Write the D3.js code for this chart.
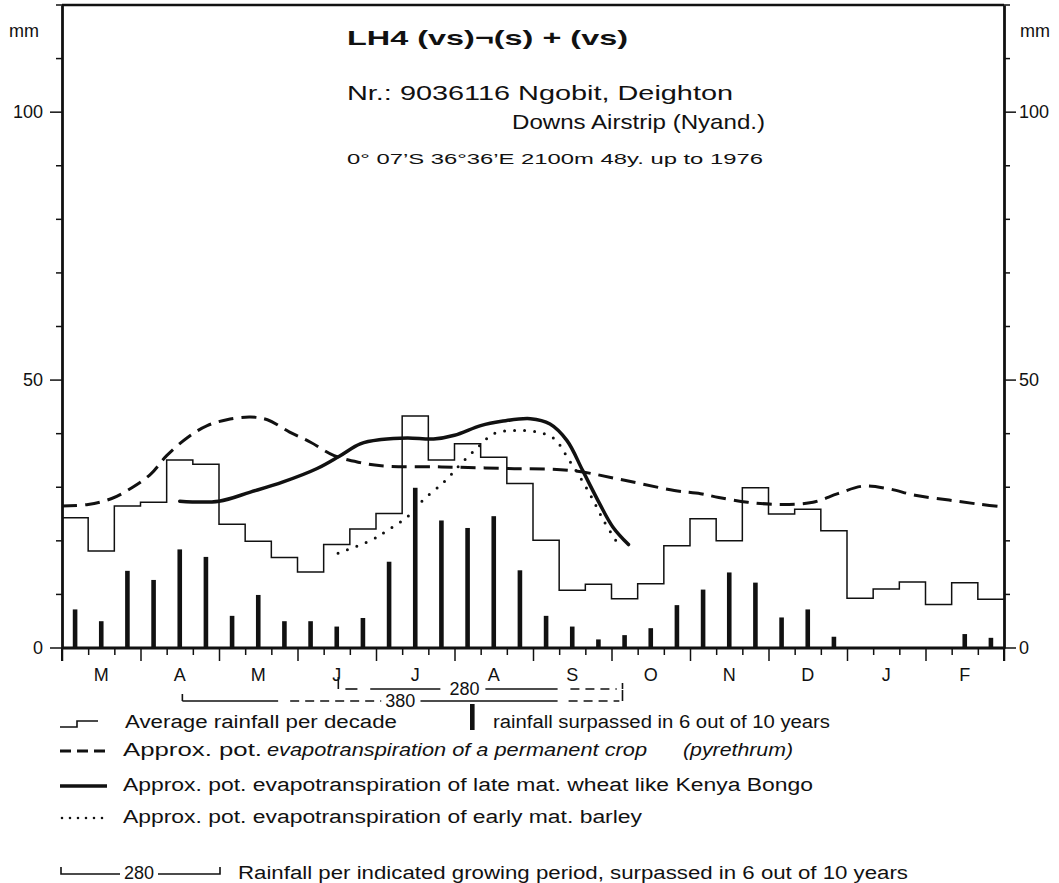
<!DOCTYPE html>
<html><head><meta charset="utf-8">
<script src="https://cdn.jsdelivr.net/npm/d3@7"></script>
<style>
body{margin:0;background:#fff}
svg{display:block}
text{font-family:"Liberation Sans",Arial,Helvetica,sans-serif;fill:#111}
</style>
</head><body>
<svg id="chart" width="1059" height="883"></svg>
<script>
// ---- DATA ----
const monthLabels = ["M","A","M","J","J","A","S","O","N","D","J","F"];
const yTickLabels = [0, 50, 100];
// average rainfall per decade (mm), 36 decades Mar..Feb
const avgRain = [24.3,18.1,26.5,27.2,35.1,34.3,23.1,19.9,16.9,14.2,19.3,22.2,
                 25.1,43.3,35.1,38.1,35.6,30.7,20.1,10.8,11.9,9.2,12.0,19.1,
                 24.1,20.0,29.9,25.0,25.9,21.9,9.3,11.0,12.3,8.1,12.2,9.1];
// rainfall surpassed in 6 out of 10 years (mm)
const rain6of10 = [7.2,5.0,14.4,12.7,18.4,17.0,6.0,9.9,5.0,5.0,4.0,5.6,
                   16.1,29.9,23.8,22.4,24.6,14.5,6.0,4.0,1.6,2.4,3.7,8.0,
                   10.9,14.1,12.2,5.7,7.2,2.1,0,0,0,0,2.6,1.9];
// pot. evapotranspiration, permanent crop (pyrethrum): decade position / mm
const pyrethrumDecade = [0,1.0,1.9,2.7,3.4,4.0,4.8,5.55,6.3,7.2,7.85,8.7,9.5,10.4,11.4,12.2,14.5,17.0,19.5,21.5,23.4,24.4,25.1,26.2,27.5,28.7,29.65,30.6,31.6,32.6,33.9,35.1,36];
const pyrethrumET     = [26.5,26.8,27.9,30.0,32.5,35.9,39.3,41.5,42.6,43.1,42.6,40.3,38.4,35.9,34.6,34.0,33.8,33.5,33.1,31.3,29.4,28.8,28.1,27.2,26.8,27.2,28.8,30.2,29.7,28.5,27.6,26.8,26.3];
// late mat. wheat (Kenya Bongo)
const wheatDecade = [4.5,6.0,7.2,8.45,9.75,10.6,11.4,12.2,13.2,14.2,15.0,16.0,16.8,17.9,18.65,19.3,19.9,20.55,21.05,21.65];
const wheatET     = [27.4,27.4,29.1,31.0,33.5,35.8,38.1,38.9,39.2,39.0,39.7,41.5,42.3,42.8,41.8,38.7,33.1,26.9,22.6,19.3];
// early mat. barley
const barleyDecade = [10.55,11.8,12.45,13.2,13.8,14.6,15.25,15.9,16.5,17.3,18.15,18.8,19.35,20.1,20.7,21.35];
const barleyET     = [17.7,20.1,22.0,24.5,27.6,31.0,34.4,37.5,40.0,40.6,40.3,39.1,35.3,29.4,23.8,18.6];
// growing-period rainfall brackets (value, start/end decade, solid/dashed segments)
const period380 = {label:"380", start:4.6, end:21.42, labelAt:12.93,
  segs:[[4.6,8.26,"s"],[8.72,12.2,"d"],[13.7,18.94,"s"],[19.36,21.3,"d"]]};
const period280 = {label:"280", start:10.56, end:21.42, labelAt:15.38,
  segs:[[10.83,11.29,"s"],[11.78,14.46,"s"],[16.18,18.94,"s"],[19.43,21.2,"d"]]};

// ---- CHART ----
const svg = d3.select("#chart");
const x = d3.scaleLinear().domain([0,36]).range([62,1004]);
const y = d3.scaleLinear().domain([0,120]).range([648,5]);
const ink = "#111";

// frame: top line, left & right axes
svg.append("line").attr("x1",x(0)).attr("x2",x(36)).attr("y1",y(120)).attr("y2",y(120)).attr("stroke",ink).attr("stroke-width",2.5);
const gl = svg.append("g").attr("transform",`translate(${x(0)},0)`)
  .call(d3.axisLeft(y).tickValues(d3.range(0,121,10)).tickSize(0).tickFormat(""));
gl.select(".domain").attr("stroke",ink).attr("stroke-width",2.8);
const gr = svg.append("g").attr("transform",`translate(${x(36)},0)`)
  .call(d3.axisRight(y).tickValues(d3.range(0,121,10)).tickSize(0).tickFormat(""));
gr.select(".domain").attr("stroke",ink).attr("stroke-width",2.8);
svg.append("line").attr("x1",x(0)).attr("x2",x(0)).attr("y1",y(0)).attr("y2",y(0)+13).attr("stroke",ink).attr("stroke-width",2);
svg.append("line").attr("x1",x(36)).attr("x2",x(36)).attr("y1",y(0)).attr("y2",y(0)+13).attr("stroke",ink).attr("stroke-width",2);

// y ticks
d3.range(0,121,10).forEach(v=>{
  const major = yTickLabels.includes(v);
  const len = major ? 12 : 6;
  svg.append("line").attr("x1",x(0)-len).attr("x2",x(0)).attr("y1",y(v)).attr("y2",y(v)).attr("stroke",ink).attr("stroke-width",1.5);
  svg.append("line").attr("x1",x(36)).attr("x2",x(36)+len).attr("y1",y(v)).attr("y2",y(v)).attr("stroke",ink).attr("stroke-width",1.5);
});
yTickLabels.forEach(v=>{
  svg.append("text").attr("x",43).attr("y",y(v)+6).attr("text-anchor","end").attr("font-size",18).text(v);
  svg.append("text").attr("x",1019).attr("y",y(v)+6).attr("text-anchor","start").attr("font-size",18).text(v);
});
svg.append("text").attr("x",9).attr("y",37).attr("font-size",18).text("mm");
svg.append("text").attr("x",1020).attr("y",37).attr("font-size",18).text("mm");

// x axis baseline & ticks
svg.append("line").attr("x1",x(0)).attr("x2",x(36)).attr("y1",y(0)).attr("y2",y(0)).attr("stroke",ink).attr("stroke-width",2.8);
const gx = svg.append("g").attr("transform",`translate(0,${y(0)})`)
  .call(d3.axisBottom(x).tickValues(d3.range(0,37)).tickSize(7).tickFormat(""));
gx.select(".domain").remove();
gx.selectAll(".tick line").attr("stroke",ink).attr("stroke-width",1.5)
  .attr("y2",d=> d%3===0 ? 13 : 7);
monthLabels.forEach((m,i)=>{
  svg.append("text").attr("x",x(i*3+1.5)).attr("y",681).attr("text-anchor","middle").attr("font-size",18).text(m);
});

// bars: rainfall surpassed 6 out of 10 years
svg.selectAll("rect.bar").data(rain6of10).join("rect").attr("class","bar")
  .attr("x",(d,i)=>x(i+0.5)-2.3).attr("width",4.6)
  .attr("y",d=>y(d)).attr("height",d=>y(0)-y(d)).attr("fill",ink);

// step line: average rainfall per decade
const stepPts = avgRain.map((v,i)=>[i,v]); stepPts.push([36,avgRain[35]]);
svg.append("path").attr("d",d3.line().x(d=>x(d[0])).y(d=>y(d[1])).curve(d3.curveStepAfter)(stepPts))
  .attr("fill","none").attr("stroke",ink).attr("stroke-width",1.5);

const smooth = d3.line().x(d=>x(d[0])).y(d=>y(d[1])).curve(d3.curveCatmullRom.alpha(0.5));
// pyrethrum dashed
svg.append("path").attr("d",smooth(pyrethrumDecade.map((d,i)=>[d,pyrethrumET[i]])))
  .attr("fill","none").attr("stroke",ink).attr("stroke-width",3).attr("stroke-dasharray","15 8");
// wheat solid
svg.append("path").attr("d",smooth(wheatDecade.map((d,i)=>[d,wheatET[i]])))
  .attr("fill","none").attr("stroke",ink).attr("stroke-width",3.5).attr("stroke-linecap","round");
// barley dotted
svg.append("path").attr("d",smooth(barleyDecade.map((d,i)=>[d,barleyET[i]])))
  .attr("fill","none").attr("stroke",ink).attr("stroke-width",3).attr("stroke-linecap","round").attr("stroke-dasharray","0 10");

// growing-period brackets
function bracket(p, yl, leftHookTop, rightHookTop){
  p.segs.forEach(s=>{
    svg.append("line").attr("x1",x(s[0])).attr("x2",x(s[1])).attr("y1",yl).attr("y2",yl)
      .attr("stroke",ink).attr("stroke-width",1.6).attr("stroke-dasharray",s[2]==="d"?"9 6":null);
  });
  svg.append("line").attr("x1",x(p.start)).attr("x2",x(p.start)).attr("y1",leftHookTop).attr("y2",yl).attr("stroke",ink).attr("stroke-width",1.6);
  svg.append("line").attr("x1",x(p.end)).attr("x2",x(p.end)).attr("y1",rightHookTop).attr("y2",yl).attr("stroke",ink).attr("stroke-width",1.6);
  svg.append("text").attr("x",x(p.labelAt)).attr("y",yl+6).attr("text-anchor","middle").attr("font-size",18).text(p.label);
}
bracket(period380, 701, 694, 690);
bracket(period280, 689, 677, 683);

// titles
function txt(s, x0, yb, size, len, opts={}){
  const t = svg.append("text").attr("x",x0).attr("y",yb).attr("font-size",size).text(s);
  if(len){ t.attr("textLength",len).attr("lengthAdjust","spacingAndGlyphs"); }
  if(opts.bold) t.attr("font-weight","bold");
  if(opts.italic) t.attr("font-style","italic");
  return t;
}
txt("LH4 (vs)\u00AC(s) + (vs)", 347, 45, 21, 281, {bold:true});
txt("Nr.: 9036116 Ngobit, Deighton", 347, 100, 21, 386);
txt("Downs Airstrip (Nyand.)", 512, 129, 21, 253);
txt("0\u00B0 07\u2019S  36\u00B036\u2019E  2100m  48y. up to 1976", 347, 164, 14, 416);

// legend
const lx0 = 60, lx1 = 107;
const r1 = 728;
svg.append("path").attr("d",`M${lx0},${r1-1}H77V${r1-7}H98`).attr("fill","none").attr("stroke",ink).attr("stroke-width",1.6);
txt("Average rainfall per decade", 125, r1, 18, 272);
svg.append("rect").attr("x",470).attr("y",r1-24).attr("width",4.6).attr("height",26).attr("fill",ink);
txt("rainfall surpassed in 6 out of 10 years", 493, r1, 18, 337);
const r2 = 756;
svg.append("line").attr("x1",lx0).attr("x2",lx1).attr("y1",r2-5).attr("y2",r2-5).attr("stroke",ink).attr("stroke-width",3).attr("stroke-dasharray","11 6");
txt("Approx. pot.", 123, r2, 18, 139);
txt("evapotranspiration of a permanent crop", 267, r2, 18, 380, {italic:true});
txt("(pyrethrum)", 683, r2, 18, 110, {italic:true});
const r3 = 791;
svg.append("line").attr("x1",lx0).attr("x2",lx1).attr("y1",r3-5).attr("y2",r3-5).attr("stroke",ink).attr("stroke-width",3.5);
txt("Approx. pot. evapotranspiration of late mat. wheat like Kenya Bongo", 123, r3, 18, 690);
const r4 = 823;
svg.append("line").attr("x1",lx0+2).attr("x2",lx1).attr("y1",r4-5).attr("y2",r4-5).attr("stroke",ink).attr("stroke-width",2.6).attr("stroke-linecap","round").attr("stroke-dasharray","0 8");
txt("Approx. pot. evapotranspiration of early mat. barley", 123, r4, 18, 519);
const r5 = 879;
svg.append("path").attr("d",`M61,${r5-12}V${r5-5}H120M158,${r5-5}H220V${r5-12}`).attr("fill","none").attr("stroke",ink).attr("stroke-width",1.6);
txt("280", 139, r5, 18, null).attr("text-anchor","middle");
txt("Rainfall per indicated growing period, surpassed in 6 out of 10 years", 238, r5, 18, 670);
</script>
</body></html>
